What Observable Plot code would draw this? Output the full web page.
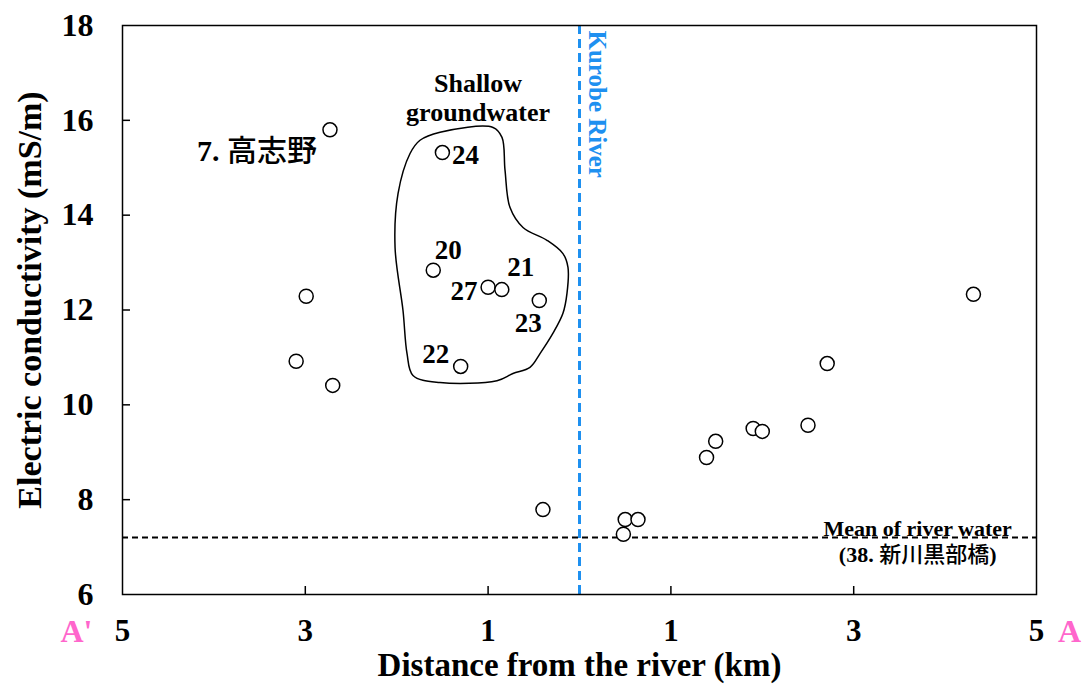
<!DOCTYPE html>
<html>
<head>
<meta charset="utf-8">
<script src="https://cdn.jsdelivr.net/npm/d3@7"></script>
<script src="https://cdn.jsdelivr.net/npm/@observablehq/plot@0.6"></script>
<style>
  html, body { margin: 0; padding: 0; background: #fff; }
  #chart { width: 1089px; height: 684px; }
</style>
</head>
<body>
<div id="chart"></div>
<script>
// ---- data ----
// Distance from the river (km): negative = A' side (left), positive = A side (right)
const sampleId = ["7", "24", "s1", "20", "27", "21", "23", "22", "s2", "s3", "s4",
                  "s5", "s6", "s7", "s8", "s9", "s10", "s11", "s12", "s13", "s14"];
const distanceKm = [-2.73, -1.50, -2.99, -1.60, -1.00, -0.85, -0.44, -1.30, -3.10, -2.70, -0.40,
                    0.50, 0.64, 0.48, 1.39, 1.49, 1.90, 2.00, 2.50, 2.71, 4.31];
const ecValues = [15.80, 15.32, 12.29, 12.84, 12.48, 12.43, 12.20, 10.81, 10.92, 10.41, 7.79,
                  7.58, 7.58, 7.27, 8.89, 9.23, 9.50, 9.44, 9.57, 10.87, 12.33];

// outline of the shallow groundwater group (data units)
const groupOutlineX = [-1.745, -1.526, -0.946, -0.848, -0.815, -0.760, -0.618, -0.356, -0.181, -0.126,
                       -0.137, -0.181, -0.290, -0.432, -0.542, -0.728, -0.903, -1.526, -1.822, -1.887,
                       -1.931, -2.018, -1.985, -1.854];
const groupOutlineY = [15.58, 15.75, 15.85, 15.64, 14.95, 14.16, 13.74, 13.47, 13.19, 12.90,
                       12.35, 11.93, 11.51, 11.08, 10.79, 10.66, 10.51, 10.47, 10.62, 11.08,
                       11.99, 13.32, 14.46, 15.30];

const riverMean = 7.2;
const xTicks = [-5, -3, -1, 1, 3, 5];
const xInnerTicks = [-3, -1, 1, 3];
const yTicks = [6, 8, 10, 12, 14, 16, 18];
const yInnerTicks = [8, 10, 12, 14, 16];

// number labels: sample id and label offset (px)
const numLabels = ["24", "20", "21", "27", "23", "22"];
const numDx = [23, 15, 19, -24, -11, -25];
const numDy = [3, -20, -22, 4, 23, -12];

// ---- build ----
const points = sampleId.map((id, i) => ({id, x: distanceKm[i], y: ecValues[i]}));
const outline = groupOutlineX.map((x, i) => ({x, y: groupOutlineY[i]}));
const labelRows = numLabels.map((id, i) => {
  const p = points.find(d => d.id === id);
  return {id, x: p.x, y: p.y, dx: numDx[i], dy: numDy[i]};
});
const p7 = points.find(d => d.id === "7");

const serif = "'Liberation Serif', 'Times New Roman', serif";
const W = 1089, H = 684, mL = 122, mR = 53, mT = 25, mB = 90;
const plotW = W - mL - mR, plotH = H - mT - mB;

const labelMarks = labelRows.map(r =>
  Plot.text([r], {x: "x", y: "y", text: "id", dx: r.dx, dy: r.dy,
    fontFamily: serif, fontWeight: "bold", fontSize: 27, fill: "black"}));

const chart = Plot.plot({
  width: W, height: H,
  marginLeft: mL, marginRight: mR, marginTop: mT, marginBottom: mB,
  style: {fontFamily: serif, background: "white", overflow: "visible"},
  x: {domain: [-5, 5]},
  y: {domain: [6, 18]},
  marks: [
    // axes (labels only)
    Plot.axisX(xTicks, {tickSize: 0, tickPadding: 0, tickFormat: d => Math.abs(d),
      fontSize: 31, fontWeight: "bold", fill: "black", dy: 37, lineAnchor: "middle", label: null}),
    Plot.axisY(yTicks, {tickSize: 0, tickPadding: 29, tickFormat: d => d,
      fontSize: 32, fontWeight: "bold", fill: "black", label: null}),
    // inward ticks
    Plot.tickX(xInnerTicks, {x: d => d, insetTop: plotH - 8, stroke: "black", strokeWidth: 1.5}),
    Plot.tickY(yInnerTicks, {y: d => d, insetRight: plotW - 8, stroke: "black", strokeWidth: 1.5}),
    // reference lines
    Plot.ruleY([riverMean], {stroke: "black", strokeWidth: 2, strokeDasharray: "6,4"}),
    Plot.ruleX([0], {stroke: "#1e90f0", strokeWidth: 3, strokeDasharray: "9,5"}),
    // group outline
    Plot.line(outline, {x: "x", y: "y", curve: "catmull-rom-closed", stroke: "black", strokeWidth: 1.5}),
    // points
    Plot.dot(points, {x: "x", y: "y", r: 7, stroke: "black", strokeWidth: 1.5, fill: "white"}),
    ...labelMarks,
    // annotations
    Plot.text(["7. 高志野"], {x: p7.x, y: p7.y, dx: -13, dy: 22, textAnchor: "end",
      fontSize: 30, fontWeight: "bold", fill: "black", className: "mixcjk"}),
    Plot.text(["Shallow\ngroundwater"], {x: -1.11, y: 16.48, fontSize: 26, fontWeight: "bold",
      lineHeight: 1.12, fill: "black"}),
    Plot.text(["Kurobe River"], {x: 0, y: 16.34, dx: 17, rotate: 90, fontSize: 25,
      fontWeight: "bold", fill: "#1e90f0"}),
    Plot.text(["Mean of river water"], {x: 3.7, y: riverMean, dy: -9, fontSize: 22,
      fontWeight: "bold", fill: "black", letterSpacing: 0.3}),
    Plot.text(["(38. 新川黒部橋)"], {x: 3.7, y: riverMean, dy: 17, fontSize: 22,
      fontWeight: "bold", fill: "black", className: "mixcjk"}),
    // axis titles
    Plot.text(["Electric conductivity (mS/m)"], {frameAnchor: "left", dx: -92, dy: -10, rotate: -90,
      textAnchor: "middle", lineAnchor: "middle",
      fontSize: 34, fontWeight: "bold", fill: "black", letterSpacing: 1}),
    Plot.text(["Distance from the river (km)"], {frameAnchor: "bottom", dy: 71, lineAnchor: "middle",
      fontSize: 33, fontWeight: "bold", fill: "black", letterSpacing: 1}),
    Plot.text(["A'"], {frameAnchor: "bottom-left", dx: -46, dy: 37, textAnchor: "middle",
      lineAnchor: "middle", fontSize: 32, fontWeight: "bold", fill: "#ff66cc"}),
    Plot.text(["A"], {frameAnchor: "bottom-right", dx: 33, dy: 37, textAnchor: "middle",
      lineAnchor: "middle", fontSize: 32, fontWeight: "bold", fill: "#ff66cc"}),
    Plot.frame({stroke: "black", strokeWidth: 1.5})
  ]
});

// render CJK runs in a regular-weight CJK font
const cjkRe = /([\u3000-\u9fff\uff00-\uffef]+)/;
d3.select(chart).selectAll(".mixcjk text").each(function() {
  const t = this.textContent;
  const parts = t.split(cjkRe).filter(s => s.length);
  this.textContent = "";
  for (const s of parts) {
    const ts = document.createElementNS("http://www.w3.org/2000/svg", "tspan");
    ts.textContent = s;
    if (cjkRe.test(s)) {
      ts.setAttribute("font-family", "'Noto Sans CJK JP', sans-serif");
      ts.setAttribute("font-weight", "500");
    }
    this.appendChild(ts);
  }
});
document.getElementById("chart").appendChild(chart);
</script>
</body>
</html>
